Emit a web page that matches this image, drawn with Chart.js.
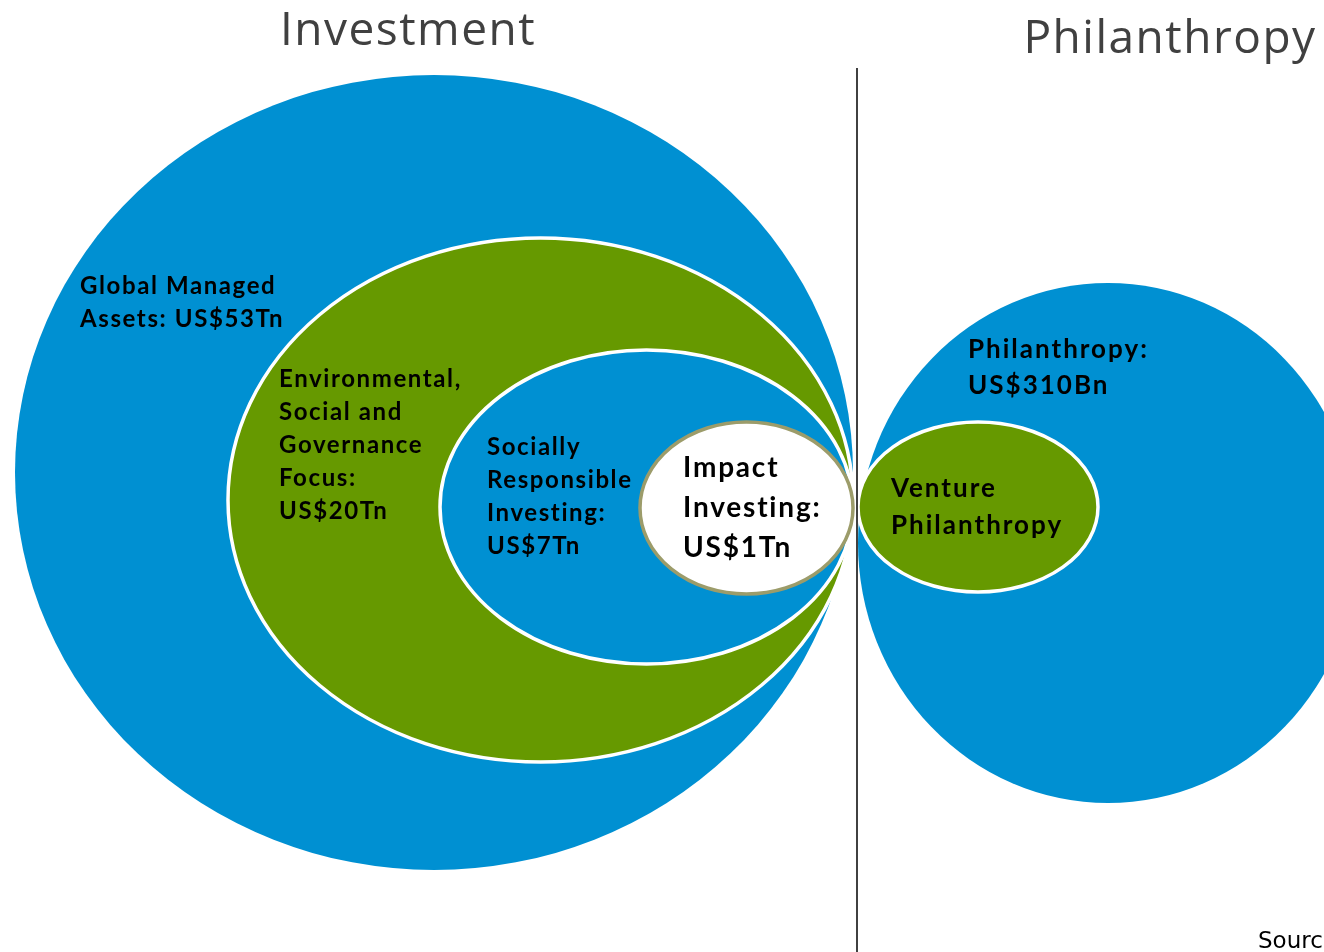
<!DOCTYPE html>
<html>
<head>
<meta charset="utf-8">
<script src="https://cdn.jsdelivr.net/npm/chart.js@4"></script>
<style>
  body { margin: 0; background: #fff; }
  #wrap { width: 1324px; height: 952px; position: relative; }
</style>
</head>
<body>
<div id="wrap"><canvas id="myChart"></canvas></div>
<script>
// data
const groups = ['Investment', 'Philanthropy'];
const categories = ['Global Managed Assets', 'Environmental, Social and Governance Focus',
    'Socially Responsible Investing', 'Impact Investing', 'Philanthropy', 'Venture Philanthropy'];
const valueLabels = ['US$53Tn', 'US$20Tn', 'US$7Tn', 'US$1Tn', 'US$310Bn', ''];
const labelLines = [
    ['Global Managed', 'Assets: ' + valueLabels[0]],
    ['Environmental,', 'Social and', 'Governance', 'Focus:', valueLabels[1]],
    ['Socially', 'Responsible', 'Investing:', valueLabels[2]],
    ['Impact', 'Investing:', valueLabels[3]],
    ['Philanthropy:', valueLabels[4]],
    ['Venture', 'Philanthropy']
];
const sourceText = 'Source';

// layout (diagram units, origin at the touching point)
const ellipseX = [-42.3, -31.65, -21.05, -11.05, 25.1, 12.1];
const ellipseY = [3.55, 0.8, 0.1, 0, -3.5, 0.1];
const ellipseRX = [41.9, 31.25, 20.65, 10.65, 25, 12];
const ellipseRY = [39.75, 26.2, 15.7, 8.6, 26, 8.5];
const labelX = [-77.7, -57.8, -37.0, -17.4, 11.1, 3.4];
const labelY = [21.4, 12.1, 5.3, 3.1, 15.0, 1.1];
const lineGap = [3.3, 3.3, 3.3, 4.0, 3.6, 3.7];
const groupX = [-44.9, 31.3];
const groupY = [46.3, 45.5];

const blue = 'rgb(0,144,210)';
const green = 'rgb(102,153,0)';
const fills = [blue, green, blue, '#ffffff', blue, green];
const borders = [null, '#ffffff', '#ffffff', '#9c9c6a', null, '#ffffff'];
const labelFonts = ['bold 24px Lato', 'bold 24px Lato', 'bold 24px Lato', 'bold 28px Lato', 'bold 26px Lato', 'bold 26px Lato'];
const labelSpacing = ['1.6px', '1.6px', '1.6px', '1.8px', '2px', '2px'];

const ellipsePlugin = {
    id: 'ellipses',
    afterDatasetsDraw(chart) {
        const c = chart.ctx;
        const xs = chart.scales.x;
        const ys = chart.scales.y;
        c.save();
        chart.data.datasets.forEach((ds, i) => {
            const pt = chart.getDatasetMeta(i).data[0];
            const rx = Math.abs(xs.getPixelForValue(ellipseX[i] + ellipseRX[i]) - pt.x);
            const ry = Math.abs(ys.getPixelForValue(ellipseY[i] + ellipseRY[i]) - pt.y);
            c.beginPath();
            c.ellipse(pt.x, pt.y, rx, ry, 0, 0, Math.PI * 2);
            c.fillStyle = ds.backgroundColor;
            c.fill();
            if (ds.borderColor) {
                c.lineWidth = ds.borderWidth;
                c.strokeStyle = ds.borderColor;
                c.stroke();
            }
        });

        // divider
        c.beginPath();
        c.moveTo(xs.getPixelForValue(0), ys.getPixelForValue(44));
        c.lineTo(xs.getPixelForValue(0), ys.getPixelForValue(-44.4));
        c.lineWidth = 1.6;
        c.strokeStyle = '#111';
        c.stroke();

        // labels
        c.fillStyle = '#000';
        c.textAlign = 'left';
        c.textBaseline = 'alphabetic';
        labelLines.forEach((lines, i) => {
            c.font = labelFonts[i];
            c.letterSpacing = labelSpacing[i];
            lines.forEach((t, j) => {
                c.fillText(t, xs.getPixelForValue(labelX[i]), ys.getPixelForValue(labelY[i] - j * lineGap[i]));
            });
        });

        // group titles
        c.fillStyle = '#404040';
        c.textAlign = 'left';
        c.font = '46px "Open Sans"';
        c.letterSpacing = '1.5px';
        groups.forEach((g, i) => {
            const w = c.measureText(g).width;
            c.fillText(g, xs.getPixelForValue(groupX[i]) - w / 2, ys.getPixelForValue(groupY[i]));
        });

        c.letterSpacing = '0px';
        c.fillStyle = '#000';
        c.font = '23px "DejaVu Sans"';
        c.fillText(sourceText, xs.getPixelForValue(40.1), ys.getPixelForValue(-44.0));
        c.restore();
    }
};

const ctx = document.getElementById('myChart');

new Chart(ctx, {
    type: 'scatter',
    data: {
        datasets: categories.map((name, i) => ({
            label: name,
            data: [{ x: ellipseX[i], y: ellipseY[i] }],
            backgroundColor: fills[i],
            borderColor: borders[i],
            borderWidth: 3.5,
            pointRadius: 0
        }))
    },
    options: {
        responsive: true,
        maintainAspectRatio: false,
        animation: false,
        layout: { padding: 0 },
        plugins: { legend: { display: false }, tooltip: { enabled: false } },
        scales: {
            x: { type: 'linear', min: -85.7, max: 46.7, display: false },
            y: { type: 'linear', min: -44.4, max: 50.8, display: false }
        }
    },
    plugins: [ellipsePlugin]
});
</script>
</body>
</html>
